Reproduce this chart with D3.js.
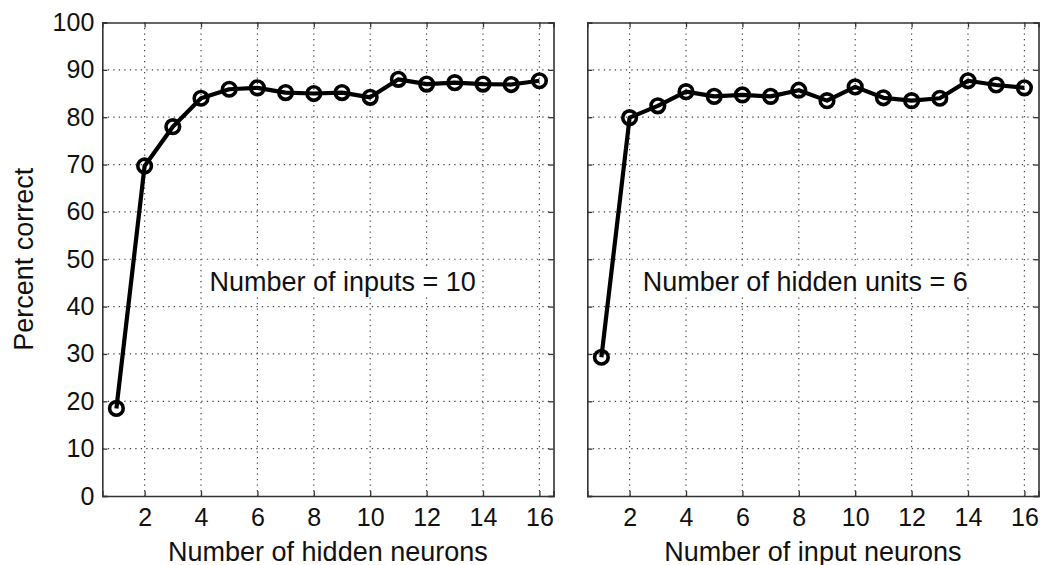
<!DOCTYPE html>
<html>
<head>
<meta charset="utf-8">
<script src="https://cdn.jsdelivr.net/npm/d3@7"></script>
<style>
  html, body { margin: 0; padding: 0; background: #fff; }
  svg { display: block; font-family: "Liberation Sans", Arial, Helvetica, sans-serif; }
</style>
</head>
<body>
<svg id="chart" width="1040" height="565"></svg>
<script>
// ---- data ----
const xValues = [1, 2, 3, 4, 5, 6, 7, 8, 9, 10, 11, 12, 13, 14, 15, 16];
const hiddenNeuronsPct = [18.5, 69.7, 78.0, 84.0, 85.9, 86.2, 85.2, 85.0, 85.2, 84.2, 88.0, 87.0, 87.3, 87.0, 86.9, 87.7];
const inputNeuronsPct  = [29.3, 79.9, 82.4, 85.4, 84.4, 84.7, 84.4, 85.7, 83.5, 86.4, 84.1, 83.5, 84.0, 87.7, 86.8, 86.2];
const xTicks = [2, 4, 6, 8, 10, 12, 14, 16];
const yTicks = [0, 10, 20, 30, 40, 50, 60, 70, 80, 90, 100];
const xDomain = [0.5, 16.5];
const yDomain = [0, 100];
const panelTitles = ["Number of inputs = 10", "Number of hidden units = 6"];
const annotationPos = [[4.3, 43.3], [2.47, 43.3]];
const xLabels = ["Number of hidden neurons", "Number of input neurons"];
const yLabel = "Percent correct";

// ---- layout ----
const svg = d3.select("#chart");
const plotTop = 22.5, plotBottom = 496;
const panels = [
  { left: 102.3, right: 553.5, data: hiddenNeuronsPct, showY: true },
  { left: 587.3, right: 1038.5, data: inputNeuronsPct, showY: false }
];
const y = d3.scaleLinear().domain(yDomain).range([plotBottom, plotTop]);
const tickLen = 5;
const txt = "#111";

panels.forEach((p, i) => {
  const x = d3.scaleLinear().domain(xDomain).range([p.left, p.right]);
  const g = svg.append("g");

  // grid
  g.selectAll(".vgrid").data(xTicks).enter().append("line")
    .attr("x1", d => x(d)).attr("x2", d => x(d))
    .attr("y1", plotTop).attr("y2", plotBottom)
    .attr("stroke", "#444").attr("stroke-width", 1.2)
    .attr("stroke-dasharray", "1.3,4.2");
  g.selectAll(".hgrid").data(yTicks.filter(d => d > 0 && d < 100)).enter().append("line")
    .attr("x1", p.left).attr("x2", p.right)
    .attr("y1", d => y(d)).attr("y2", d => y(d))
    .attr("stroke", "#444").attr("stroke-width", 1.2)
    .attr("stroke-dasharray", "1.3,4.2");

  // axes via d3 axis (inward ticks)
  const xAxisB = d3.axisBottom(x).tickValues(xTicks).tickSize(-tickLen).tickPadding(12);
  const xAxisT = d3.axisTop(x).tickValues(xTicks).tickSize(-tickLen).tickFormat("");
  const yAxisL = d3.axisLeft(y).tickValues(yTicks).tickSize(-tickLen).tickPadding(8);
  const yAxisR = d3.axisRight(y).tickValues(yTicks).tickSize(-tickLen).tickFormat("");
  if (!p.showY) yAxisL.tickFormat("");

  const axes = [
    g.append("g").attr("transform", `translate(0,${plotBottom})`).call(xAxisB),
    g.append("g").attr("transform", `translate(0,${plotTop})`).call(xAxisT),
    g.append("g").attr("transform", `translate(${p.left},0)`).call(yAxisL),
    g.append("g").attr("transform", `translate(${p.right},0)`).call(yAxisR)
  ];
  axes.forEach(a => {
    a.select(".domain").attr("stroke", "#333").attr("stroke-width", 1.6);
    a.selectAll(".tick line").attr("stroke", "#333").attr("stroke-width", 1.3);
    a.selectAll(".tick text").attr("fill", txt).attr("font-size", 25)
      .attr("font-family", "'Liberation Sans', Arial, sans-serif");
  });
  axes[0].selectAll(".tick text").attr("dy", "0.71em");

  // annotation with white background (hides grid behind it)
  const ann = g.append("g");
  const annText = ann.append("text")
    .attr("x", x(annotationPos[i][0])).attr("y", y(annotationPos[i][1]))
    .attr("font-size", 27).attr("fill", txt)
    .text(panelTitles[i]);
  const bb = annText.node().getBBox();
  ann.insert("rect", "text")
    .attr("x", bb.x - 3).attr("y", bb.y + 1)
    .attr("width", bb.width + 6).attr("height", bb.height - 2)
    .attr("fill", "#fff");

  // line
  const pts = xValues.map((xv, j) => [xv, p.data[j]]);
  g.append("path").datum(pts)
    .attr("fill", "none").attr("stroke", "#000").attr("stroke-width", 4.2)
    .attr("stroke-linejoin", "round")
    .attr("d", d3.line().x(d => x(d[0])).y(d => y(d[1])));
  g.selectAll(".mk").data(pts).enter().append("circle")
    .attr("cx", d => x(d[0])).attr("cy", d => y(d[1]))
    .attr("r", 6.8).attr("fill", "none").attr("stroke", "#000").attr("stroke-width", 3.6);

  // x label
  g.append("text")
    .attr("x", (p.left + p.right) / 2).attr("y", 560.5)
    .attr("text-anchor", "middle").attr("font-size", 27).attr("fill", txt)
    .text(xLabels[i]);
});

// y label
svg.append("text")
  .attr("transform", `translate(33,${(plotTop + plotBottom) / 2}) rotate(-90)`)
  .attr("text-anchor", "middle").attr("font-size", 27).attr("fill", txt)
  .text(yLabel);
</script>
</body>
</html>
